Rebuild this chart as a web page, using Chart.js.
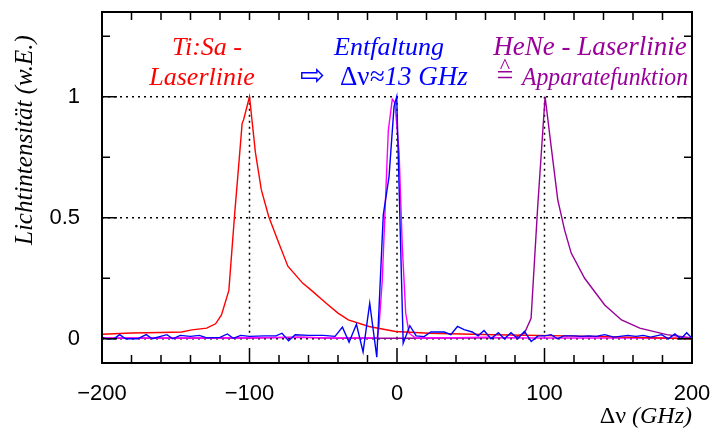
<!DOCTYPE html>
<html>
<head>
<meta charset="utf-8">
<script src="https://cdn.jsdelivr.net/npm/chart.js@4"></script>
<style>
    html, body { margin: 0; padding: 0; background: #fff; }
    #wrap { width: 714px; height: 432px; }
</style>
</head>
<body>
<div id="wrap"><canvas id="chart" width="714" height="432"></canvas></div>
<script>
// ===== DATA =====
// Ti:Sa laser line (red)
const tisaX = [-200, -180, -160, -146, -139, -129, -123, -119, -114, -110, -107, -105, -104, -100, -96, -92, -87, -81, -74, -64, -58, -48, -40, -33, -19, -1, 22, 66, 134, 200];
const tisaY = [0.019, 0.024, 0.026, 0.028, 0.037, 0.044, 0.062, 0.099, 0.2, 0.52, 0.74, 0.89, 0.905, 1.0, 0.77, 0.616, 0.505, 0.409, 0.30, 0.23, 0.2, 0.147, 0.106, 0.078, 0.051, 0.03, 0.023, 0.017, 0.01, 0.0];

// deconvolved line (blue)
const entfX = [-200, -197, -192, -188, -184, -176, -170, -166, -156, -152, -147, -140, -134, -129, -120, -115, -111, -106, -100, -90, -82, -78, -73.5, -69, -60, -50, -42, -37, -32.5, -27.5, -23, -18.5, -13.7, -9.3, -5.4, -2, -0.2, 4.2, 8.7, 13, 18.4, 23, 32, 36.5, 41, 45.5, 51, 55, 59, 63.7, 68.7, 72.8, 77.3, 81.9, 86.4, 91, 95.5, 100, 104.5, 108.8, 113, 120, 125, 130, 135, 140.8, 147, 156.5, 162, 167, 172, 179.4, 184, 188.4, 192.5, 196.4, 200];
const entfY = [0.007, 0.0, 0.0, 0.017, 0.0, 0.0, 0.017, 0.0, 0.017, 0.0, 0.014, 0.01, 0.014, 0.004, 0.006, 0.02, 0.002, 0.014, 0.01, 0.012, 0.012, 0.023, -0.008, 0.017, 0.014, 0.014, 0.01, 0.048, -0.014, 0.06, -0.054, 0.147, -0.076, 0.512, 0.67, 0.96, 1.0, -0.018, 0.054, 0.012, 0.009, 0.028, 0.028, 0.017, 0.051, 0.038, 0.028, 0.012, 0.034, 0.0, 0.025, 0.0, 0.025, 0.0, 0.031, -0.011, 0.012, 0.012, 0.017, 0.0, 0.012, 0.012, 0.01, 0.012, 0.01, 0.017, 0.007, 0.014, 0.01, 0.014, 0.007, 0.017, 0.0, 0.02, 0.0, 0.025, 0.002];

// apparatus function shifted to 0 (magenta)
const appX = [-200, -150, -100, -65, -40, -20, -13.4, -12.2, -10, -7.7, -5.9, -3.2, -1.4, 1.4, 3.6, 5.9, 8.2, 12.7, 40, 60, 70, 90, 150, 200];
const appY = [0.003, 0.003, 0.004, 0.006, 0.003, 0.003, 0.005, 0.05, 0.24, 0.59, 0.86, 0.99, 0.975, 0.77, 0.38, 0.106, 0.023, 0.003, 0.004, 0.007, 0.005, 0.003, 0.003, 0.002];

// HeNe laser line (purple)
const heneX = [-200, -100, -65, -50, 0, 50, 80, 86.4, 90.9, 95.4, 100.4, 104.5, 109, 113.6, 118.1, 127.2, 140.8, 152.2, 164.6, 182.8, 200];
const heneY = [0.002, 0.003, 0.007, 0.003, 0.002, 0.003, 0.005, 0.023, 0.085, 0.547, 1.0, 0.795, 0.574, 0.45, 0.354, 0.25, 0.14, 0.078, 0.044, 0.017, 0.003];

// axes
const xTickValues = [-200, -100, 0, 100, 200];
const yTickValues = [0, 0.5, 1];
const xMinorStep = 20;
const yMinorStep = 0.25;
const refLevels = [0, 0.5, 1];        // dotted horizontal lines
const markerPositions = [-100, 0, 100]; // dotted vertical lines

const RED = '#ff0000';
const BLUE = '#0000ff';
const MAGENTA = '#ff00ff';
const PURPLE = '#990099';

// ===== HELPERS =====
function toPoints(xs, ys) {
    return xs.map((x, i) => ({ x: x, y: ys[i] }));
}

function curve(label, xs, ys, color, order) {
    return {
        label: label,
        data: toPoints(xs, ys),
        borderColor: color,
        borderWidth: 1.4,
        pointRadius: 0,
        tension: 0,
        order: order
    };
}

function dotted(points) {
    return {
        data: points,
        borderColor: '#000',
        borderWidth: 1.5,
        borderDash: [2, 4],
        pointRadius: 0,
        order: 10
    };
}

// draw text squeezed to a given width (right aligned at x)
function fitTextRight(ctx, text, xRight, y, width) {
    const w = ctx.measureText(text).width;
    ctx.save();
    ctx.translate(xRight - width, y);
    ctx.scale(width / w, 1);
    ctx.textAlign = 'left';
    ctx.fillText(text, 0, 0);
    ctx.restore();
}

const datasets = [
    curve('Entfaltung', entfX, entfY, BLUE, 1),
    curve('Ti:Sa', tisaX, tisaY, RED, 2),
    curve('Apparatefunktion', appX, appY, MAGENTA, 3),
    curve('HeNe', heneX, heneY, PURPLE, 4)
];
refLevels.forEach(v => datasets.push(dotted([{ x: -200, y: v }, { x: 200, y: v }])));
markerPositions.forEach(p => datasets.push(dotted([{ x: p, y: 0 }, { x: p, y: 1 }])));

// ===== FRAME, INWARD TICKS AND TEXT =====
const framePlugin = {
    id: 'frame',
    afterDraw(chart) {
        const ctx = chart.ctx;
        const a = chart.chartArea;
        const xs = chart.scales.x;
        const ys = chart.scales.y;
        ctx.save();
        ctx.strokeStyle = '#000';

        // ticks
        ctx.lineWidth = 1.5;
        ctx.beginPath();
        for (let v = xs.min; v <= xs.max + 1e-9; v += xMinorStep) {
            const px = xs.getPixelForValue(v);
            const major = Math.abs(v % 100) < 1e-9;
            ctx.moveTo(px, a.bottom);
            ctx.lineTo(px, a.bottom - (major ? 15 : 8));
            ctx.moveTo(px, a.top);
            ctx.lineTo(px, a.top + 8);
        }
        for (let v = 0; v <= ys.max + 1e-9; v += yMinorStep) {
            const py = ys.getPixelForValue(v);
            const major = Math.abs((v * 2) % 1) < 1e-9;
            const len = major ? 15 : 8;
            ctx.moveTo(a.left, py);
            ctx.lineTo(a.left + len, py);
            ctx.moveTo(a.right, py);
            ctx.lineTo(a.right - len, py);
        }
        ctx.stroke();

        // frame
        ctx.lineWidth = 2;
        ctx.strokeRect(a.left, a.top, a.right - a.left, a.bottom - a.top);

        // axis titles
        ctx.fillStyle = '#000';
        ctx.textBaseline = 'alphabetic';
        ctx.textAlign = 'left';
        const serif = '"Liberation Serif", "Times New Roman", serif';
        ctx.font = 'italic 24px ' + serif;
        const unit = '(GHz)';
        const unitW = ctx.measureText(unit).width;
        ctx.fillText(unit, a.right - unitW, 423);
        ctx.font = '24px ' + serif;
        const dn = 'Δν ';
        ctx.fillText(dn, a.right - unitW - ctx.measureText(dn).width, 423);

        ctx.save();
        ctx.translate(32, 245);
        ctx.rotate(-Math.PI / 2);
        ctx.font = 'italic 25px ' + serif;
        ctx.fillText('Lichtintensität (w.E.)', 0, 0);
        ctx.restore();

        // annotations
        ctx.font = 'italic 26px ' + serif;
        ctx.textAlign = 'center';
        ctx.fillStyle = RED;
        ctx.fillText('Ti:Sa -', 207, 55);
        ctx.fillText('Laserlinie', 202, 85);

        ctx.fillStyle = BLUE;
        ctx.fillText('Entfaltung', 389, 55);
        ctx.textAlign = 'left';
        ctx.font = '30px "DejaVu Sans", sans-serif';
        ctx.fillText('⇨', 300, 85);
        ctx.font = '27px ' + serif;
        ctx.fillText('Δν', 340, 85);
        const dnw = ctx.measureText('Δν').width;
        ctx.font = 'italic 27px ' + serif;
        ctx.fillText('≈13 GHz', 340 + dnw, 85);

        ctx.fillStyle = PURPLE;
        ctx.textAlign = 'center';
        ctx.font = 'italic 27px ' + serif;
        ctx.fillText('HeNe - Laserlinie', 590, 55);
        ctx.font = 'italic 26px ' + serif;
        fitTextRight(ctx, 'Apparatefunktion', 688, 85, 166);
        // "corresponds to" sign: hat over equals
        ctx.font = '30px ' + serif;
        ctx.textAlign = 'center';
        ctx.fillText('=', 505, 85);
        ctx.font = '22px ' + serif;
        ctx.fillText('^', 505, 73);

        ctx.restore();
    }
};

// ===== CHART =====
new Chart(document.getElementById('chart'), {
    type: 'line',
    data: { datasets: datasets },
    options: {
        responsive: false,
        animation: false,
        events: [],
        layout: { padding: { top: 12, right: 22, left: 0, bottom: 0 } },
        plugins: {
            legend: { display: false },
            tooltip: { enabled: false }
        },
        scales: {
            x: {
                type: 'linear',
                min: -200,
                max: 200,
                afterBuildTicks: scale => { scale.ticks = xTickValues.map(v => ({ value: v })); },
                afterFit: scale => {
                    scale.height = 69;
                    scale.paddingLeft = 0;
                    scale.paddingRight = 0;
                },
                grid: { display: false },
                border: { display: false },
                ticks: {
                    padding: 10,
                    color: '#000',
                    font: { family: '"Liberation Sans", Arial, sans-serif', size: 22 },
                    callback: v => (v < 0 ? '\u2212' + Math.abs(v) : String(v))
                }
            },
            y: {
                type: 'linear',
                min: -0.1,
                max: 1.35,
                afterBuildTicks: scale => { scale.ticks = yTickValues.map(v => ({ value: v })); },
                afterFit: scale => {
                    scale.width = 102;
                    scale.paddingTop = 0;
                    scale.paddingBottom = 0;
                },
                grid: { display: false },
                border: { display: false },
                ticks: {
                    padding: 14,
                    color: '#000',
                    font: { family: '"Liberation Sans", Arial, sans-serif', size: 22 },
                    callback: v => String(v)
                }
            }
        }
    },
    plugins: [framePlugin]
});
</script>
</body>
</html>
